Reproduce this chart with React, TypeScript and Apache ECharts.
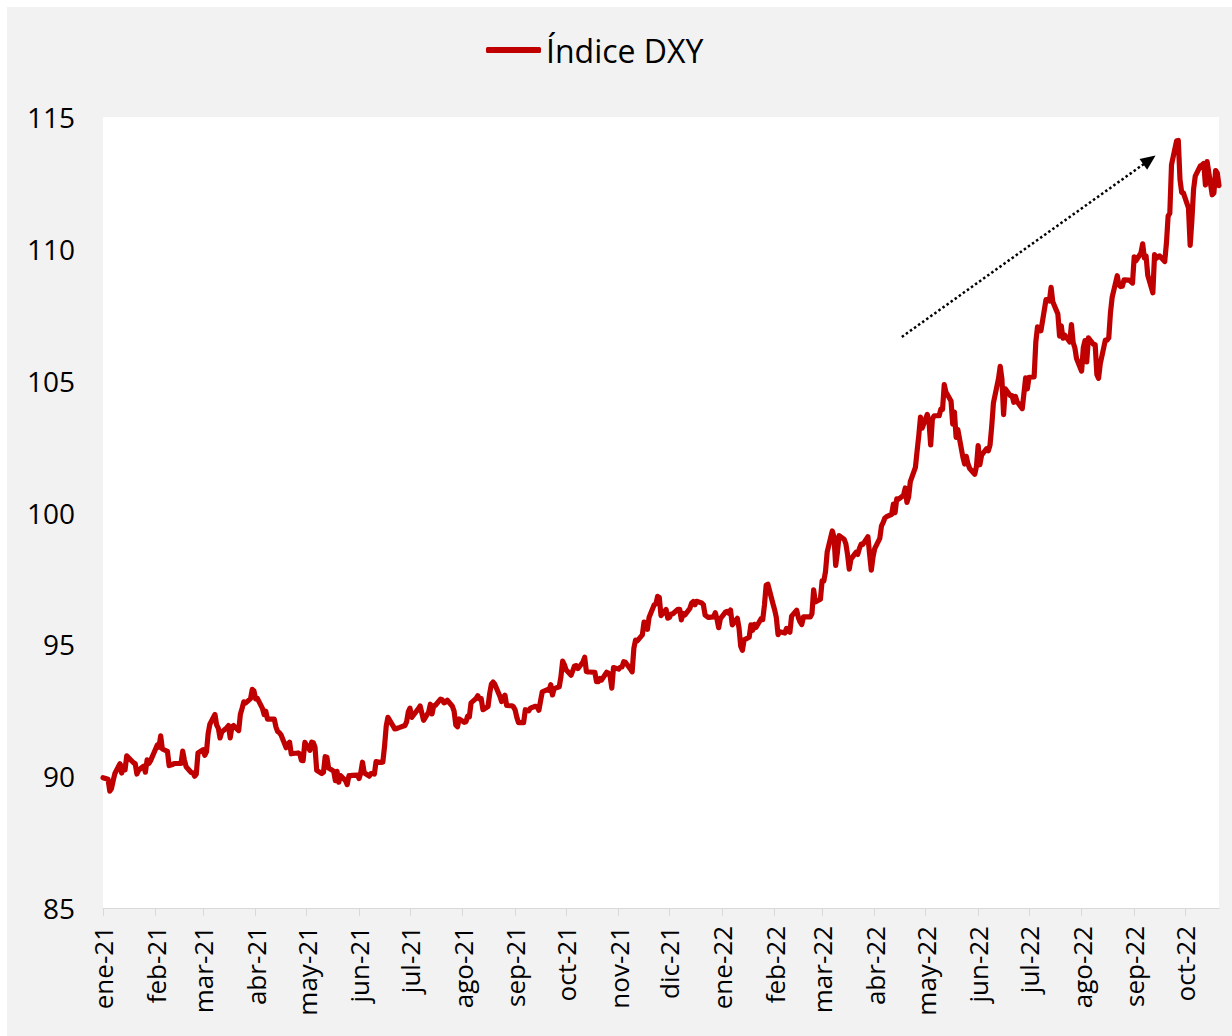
import React, { useEffect, useRef } from "react";
import * as echarts from "echarts";

type Pt = [number, number];

const MONTH_LABELS = ["ene", "feb", "mar", "abr", "may", "jun", "jul", "ago", "sep", "oct", "nov", "dic"];
const Y_MIN = 85;
const Y_MAX = 115;
const Y_STEP = 5;
const SERIES_NAME = "Índice DXY";
const START_DATE = "2021-01-01";
const END_DATE = "2022-10-21";

const jan21: Pt[] = [[1, 89.94], [4, 89.88], [5, 89.43], [6, 89.53], [7, 89.83], [8, 90.1], [11, 90.47], [12, 90.12], [13, 90.38], [14, 90.24], [15, 90.77], [19, 90.51], [20, 90.47], [21, 90.08], [22, 90.23], [25, 90.38], [26, 90.15], [27, 90.62], [28, 90.48], [29, 90.58]];
const feb21: Pt[] = [[1, 91.03], [2, 91.18], [3, 91.1], [4, 91.53], [5, 91.03], [8, 90.94], [9, 90.4], [10, 90.42], [11, 90.44], [12, 90.48], [16, 90.48], [17, 90.95], [18, 90.61], [19, 90.36], [22, 90.14], [23, 90.13], [24, 90.0], [25, 90.07], [26, 90.88]];
const mar21: Pt[] = [[1, 91.0], [2, 90.79], [3, 90.92], [4, 91.62], [5, 91.97], [8, 92.34], [9, 91.94], [10, 91.82], [11, 91.45], [12, 91.67], [15, 91.84], [16, 91.92], [17, 91.45], [18, 91.87], [19, 91.92], [22, 91.73], [23, 92.35], [24, 92.57], [25, 92.82], [26, 92.77], [29, 92.94], [30, 93.29], [31, 93.23]];
const apr21: Pt[] = [[1, 92.93], [2, 92.95], [5, 92.57], [6, 92.34], [7, 92.46], [8, 92.16], [9, 92.16], [12, 92.16], [13, 91.86], [14, 91.69], [15, 91.65], [16, 91.56], [19, 91.08], [20, 91.22], [21, 91.29], [22, 90.85], [23, 90.86], [26, 90.88], [27, 90.85], [28, 90.6], [29, 90.59], [30, 91.28]];
const may21: Pt[] = [[3, 90.98], [4, 91.29], [5, 91.27], [6, 91.1], [7, 90.22], [10, 90.1], [11, 90.15], [12, 90.74], [13, 90.72], [14, 90.31], [17, 90.19], [18, 89.83], [19, 90.18], [20, 89.77], [21, 90.02], [24, 89.83], [25, 89.68], [26, 90.02], [27, 90.02], [28, 90.03], [31, 90.04]];
const jun21: Pt[] = [[1, 89.91], [2, 90.13], [3, 90.53], [4, 90.13], [7, 90.0], [8, 90.1], [9, 90.1], [10, 90.08], [11, 90.55], [14, 90.52], [15, 90.54], [16, 91.13], [17, 91.9], [18, 92.23], [21, 91.91], [22, 91.79], [23, 91.8], [24, 91.83], [25, 91.85], [28, 91.92], [29, 92.06], [30, 92.44]];
const jul21: Pt[] = [[1, 92.58], [2, 92.23], [6, 92.56], [7, 92.66], [8, 92.39], [9, 92.12], [12, 92.43], [13, 92.73], [14, 92.36], [15, 92.67], [16, 92.69], [19, 92.92], [20, 92.9], [21, 92.78], [22, 92.81], [23, 92.88], [26, 92.65], [27, 92.47], [28, 91.94], [29, 91.87], [30, 92.17]];
const aug21: Pt[] = [[2, 92.04], [3, 92.06], [4, 92.28], [5, 92.25], [6, 92.78], [9, 92.95], [10, 93.05], [11, 92.93], [12, 92.94], [13, 92.52], [16, 92.64], [17, 93.14], [18, 93.49], [19, 93.57], [20, 93.49], [23, 93.03], [24, 92.83], [25, 92.99], [26, 93.07], [27, 92.68], [30, 92.67], [31, 92.63]];
const sep21: Pt[] = [[1, 92.51], [2, 92.23], [3, 92.03], [6, 92.03], [7, 92.52], [8, 92.5], [9, 92.48], [10, 92.58], [13, 92.65], [14, 92.63], [15, 92.5], [16, 92.86], [17, 93.2], [20, 93.28], [21, 93.25], [22, 93.47], [23, 93.08], [24, 93.32], [27, 93.39], [28, 93.77], [29, 94.36], [30, 94.23]];
const oct21: Pt[] = [[1, 94.04], [4, 93.83], [5, 94.0], [6, 94.18], [7, 94.19], [8, 94.08], [11, 94.33], [12, 94.51], [13, 93.97], [14, 93.95], [15, 93.95], [18, 93.94], [19, 93.58], [20, 93.58], [21, 93.71], [22, 93.65], [25, 93.94], [26, 93.91], [27, 93.79], [28, 93.34], [29, 94.12]];
const nov21: Pt[] = [[1, 94.06], [2, 94.13], [3, 94.14], [4, 94.34], [5, 94.32], [8, 94.06], [9, 93.96], [10, 94.85], [11, 95.16], [12, 95.13], [15, 95.36], [16, 95.84], [17, 95.81], [18, 95.57], [19, 96.03], [22, 96.5], [23, 96.53], [24, 96.82], [25, 96.78], [26, 96.09], [29, 96.32], [30, 95.99]];
const dec21: Pt[] = [[1, 96.02], [2, 96.15], [3, 96.16], [6, 96.33], [7, 96.33], [8, 95.93], [9, 96.17], [10, 96.11], [13, 96.36], [14, 96.56], [15, 96.62], [16, 96.5], [17, 96.63], [20, 96.57], [21, 96.5], [22, 96.11], [23, 96.06], [24, 96.02], [27, 96.04], [28, 96.2], [29, 95.96], [30, 95.63], [31, 95.97]];
const jan22: Pt[] = [[3, 96.22], [4, 96.25], [5, 96.18], [6, 96.3], [7, 95.74], [10, 95.99], [11, 95.62], [12, 94.93], [13, 94.77], [14, 95.17], [17, 95.27], [18, 95.74], [19, 95.53], [20, 95.76], [21, 95.64], [24, 95.97], [25, 95.94], [26, 96.49], [27, 97.24], [28, 97.28], [31, 96.54]];
const feb22: Pt[] = [[1, 96.31], [2, 96.02], [3, 95.37], [4, 95.48], [7, 95.43], [8, 95.6], [9, 95.51], [10, 95.46], [11, 96.07], [14, 96.29], [15, 96.01], [16, 95.85], [17, 95.75], [18, 96.04], [22, 96.04], [23, 96.16], [24, 97.07], [25, 96.61], [28, 96.71]];
const mar22: Pt[] = [[1, 97.41], [2, 97.4], [3, 97.76], [4, 98.51], [7, 99.3], [8, 99.06], [9, 97.99], [10, 98.48], [11, 99.12], [14, 98.98], [15, 98.81], [16, 98.4], [17, 97.85], [18, 98.23], [21, 98.49], [22, 98.41], [23, 98.64], [24, 98.8], [25, 98.79], [28, 99.08], [29, 98.42], [30, 97.81], [31, 98.31]];
const apr22: Pt[] = [[1, 98.63], [4, 99.02], [5, 99.49], [6, 99.62], [7, 99.79], [8, 99.84], [11, 99.93], [12, 100.32], [13, 99.99], [14, 100.52], [15, 100.5], [18, 100.65], [19, 100.93], [20, 100.38], [21, 100.59], [22, 101.17], [25, 101.71], [26, 102.33], [27, 102.92], [28, 103.62], [29, 103.2]];
const may22: Pt[] = [[2, 103.72], [3, 103.46], [4, 102.56], [5, 103.53], [6, 103.67], [9, 103.67], [10, 103.92], [11, 103.91], [12, 104.85], [13, 104.57], [16, 104.23], [17, 103.35], [18, 103.81], [19, 102.85], [20, 103.15], [23, 102.1], [24, 101.84], [25, 102.13], [26, 101.84], [27, 101.67], [30, 101.45], [31, 101.75]];
const jun22: Pt[] = [[1, 102.54], [2, 101.81], [3, 102.17], [6, 102.42], [7, 102.34], [8, 102.56], [9, 103.27], [10, 104.15], [13, 105.08], [14, 105.54], [15, 105.07], [16, 103.71], [17, 104.69], [20, 104.43], [21, 104.43], [22, 104.18], [23, 104.4], [24, 104.2], [27, 103.94], [28, 104.52], [29, 105.11], [30, 104.69]];
const jul22: Pt[] = [[1, 105.13], [4, 105.14], [5, 106.47], [6, 107.04], [7, 107.0], [8, 106.89], [11, 108.07], [12, 108.07], [13, 108.02], [14, 108.54], [15, 107.99], [18, 107.53], [19, 106.69], [20, 107.08], [21, 106.61], [22, 106.73], [25, 106.47], [26, 107.13], [27, 106.45], [28, 106.25], [29, 105.84]];
const aug22: Pt[] = [[1, 105.36], [2, 106.25], [3, 106.52], [4, 105.71], [5, 106.62], [8, 106.38], [9, 106.36], [10, 105.23], [11, 105.09], [12, 105.64], [15, 106.54], [16, 106.54], [17, 106.62], [18, 107.57], [19, 108.16], [22, 108.98], [23, 108.63], [24, 108.57], [25, 108.58], [26, 108.82], [29, 108.81], [30, 108.76], [31, 108.7]];
const sep22: Pt[] = [[1, 109.7], [2, 109.54], [5, 109.85], [6, 110.19], [7, 109.65], [8, 109.73], [9, 109.0], [12, 108.33], [13, 109.78], [14, 109.64], [15, 109.7], [16, 109.73], [19, 109.52], [20, 110.21], [21, 111.24], [22, 111.35], [23, 113.19], [26, 114.1], [27, 114.11], [28, 112.63], [29, 112.14], [30, 112.12]];
const oct22: Pt[] = [[3, 111.55], [4, 110.13], [5, 111.07], [6, 112.25], [7, 112.76], [10, 113.15], [11, 113.18], [12, 113.24], [13, 112.42], [14, 113.31], [17, 112.05], [18, 112.12], [19, 112.97], [20, 112.87], [21, 112.4]];

const MONTHLY: [string, Pt[]][] = [
  ["2021-01", jan21], ["2021-02", feb21], ["2021-03", mar21], ["2021-04", apr21],
  ["2021-05", may21], ["2021-06", jun21], ["2021-07", jul21], ["2021-08", aug21],
  ["2021-09", sep21], ["2021-10", oct21], ["2021-11", nov21], ["2021-12", dec21],
  ["2022-01", jan22], ["2022-02", feb22], ["2022-03", mar22], ["2022-04", apr22],
  ["2022-05", may22], ["2022-06", jun22], ["2022-07", jul22], ["2022-08", aug22],
  ["2022-09", sep22], ["2022-10", oct22],
];

// trend arrow annotation (start / end in data space)
const ARROW_START: [string, number] = ["2022-04-17", 106.66];
const ARROW_END: [string, number] = ["2022-09-10", 113.37];

function buildDays(start: string, end: string): string[] {
  const out: string[] = [];
  const s = Date.parse(start + "T00:00:00Z");
  const e = Date.parse(end + "T00:00:00Z");
  for (let t = s; t <= e; t += 86400000) {
    out.push(new Date(t).toISOString().slice(0, 10));
  }
  return out;
}

const FONT = "'Open Sans', 'Noto Sans', sans-serif";

export default function App() {
  const ref = useRef<HTMLDivElement>(null);

  useEffect(() => {
    if (!ref.current) return;
    const chart = echarts.init(ref.current, undefined, { renderer: "svg" });
    const days = buildDays(START_DATE, END_DATE);
    const seriesData = MONTHLY.flatMap(([ym, pts]) =>
      pts.map(([d, v]) => [`${ym}-${String(d).padStart(2, "0")}`, v])
    );
    const isMonthStart = (_i: number, v: string) => v.endsWith("-01");

    chart.setOption({
      animation: false,
      backgroundColor: "#f2f2f2",
      textStyle: { fontFamily: FONT },
      legend: {
        data: [{ name: SERIES_NAME, icon: "roundRect" }],
        left: 474,
        top: 22,
        itemWidth: 55,
        itemHeight: 6,
        itemStyle: { color: "#c00000", borderWidth: 0 },
        textStyle: { fontSize: 32, color: "#000", fontFamily: FONT },
      },
      grid: { left: 96, right: 13, top: 110, bottom: 128, backgroundColor: "#fff", show: true, borderWidth: 0 },
      xAxis: {
        type: "category",
        data: days,
        boundaryGap: false,
        axisLine: { show: true, lineStyle: { color: "#d9d9d9", width: 1 } },
        axisTick: { show: true, interval: isMonthStart, length: 8, lineStyle: { color: "#d9d9d9" } },
        axisLabel: {
          interval: isMonthStart,
          rotate: 90,
          margin: 18,
          fontSize: 26,
          color: "#000",
          fontFamily: FONT,
          formatter: (v: string) => `${MONTH_LABELS[Number(v.slice(5, 7)) - 1]}-${v.slice(2, 4)}`,
        },
        splitLine: { show: false },
      },
      yAxis: {
        type: "value",
        min: Y_MIN,
        max: Y_MAX,
        interval: Y_STEP,
        axisLine: { show: false },
        axisTick: { show: false },
        splitLine: { show: false },
        axisLabel: { fontSize: 28, color: "#000", margin: 28, fontFamily: FONT },
      },
      series: [
        {
          name: SERIES_NAME,
          type: "line",
          data: seriesData,
          symbol: "none",
          color: "#c00000",
          lineStyle: { color: "#c00000", width: 5.2, join: "round", cap: "round" },
          markLine: {
            silent: true,
            symbol: ["none", "triangle"],
            symbolSize: [13, 15],
            label: { show: false },
            lineStyle: { color: "#000", type: "dotted", width: 2.5 },
            data: [
              [
                { coord: [days.indexOf(ARROW_START[0]), ARROW_START[1]] },
                { coord: [days.indexOf(ARROW_END[0]), ARROW_END[1]] },
              ],
            ],
          },
        },
      ],
    });
    return () => chart.dispose();
  }, []);

  return (
    <div style={{ position: "fixed", left: 0, top: 0, width: 1232, height: 1036, background: "#fff", overflow: "hidden" }}>
      <div ref={ref} style={{ position: "absolute", left: 7, top: 7, width: 1225, height: 1029 }} />
    </div>
  );
}
